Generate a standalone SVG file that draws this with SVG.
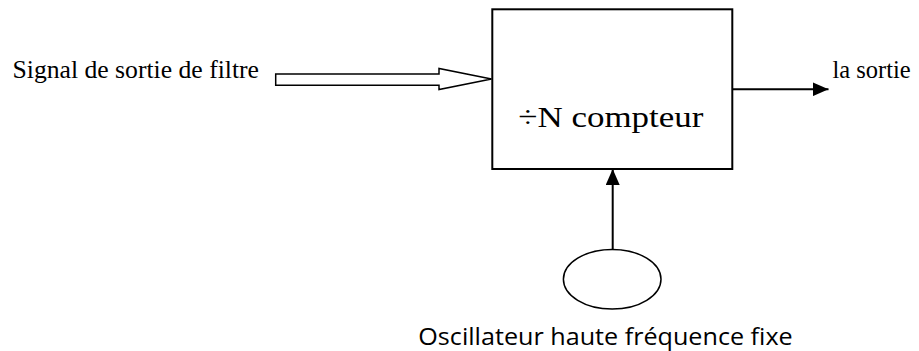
<svg xmlns="http://www.w3.org/2000/svg" width="919" height="351" viewBox="0 0 919 351">
  <style>
    .serif { font-family: "Liberation Serif", "Times New Roman", serif; fill: #000; }
    .sans { font-family: "Open Sans", "Liberation Sans", sans-serif; fill: #000; }
    .outline { fill: #fff; stroke: #000; }
    .wire { fill: none; stroke: #000; stroke-width: 2; }
  </style>
  <defs>
    <marker id="head" viewBox="0 0 16 14" refX="16" refY="7" markerWidth="16" markerHeight="14" markerUnits="userSpaceOnUse" orient="auto">
      <path d="M0,0 L16,7 L0,14 Z" fill="#000"/>
    </marker>
  </defs>

  <rect width="919" height="351" fill="#fff"/>

  <!-- connectors -->
  <g id="connectors">
    <polygon class="outline" stroke-width="1.5" points="275.7,74 439,74 439,68.5 491.5,79 439,89.5 439,85.3 275.7,85.3"/>
    <line class="wire" x1="733" y1="89.3" x2="828.5" y2="89.3" marker-end="url(#head)"/>
    <line class="wire" x1="612.7" y1="249" x2="612.7" y2="169" marker-end="url(#head)"/>
  </g>

  <!-- input label -->
  <g id="input">
    <text class="serif" x="12.5" y="78.3" font-size="25" textLength="246.5" lengthAdjust="spacingAndGlyphs">Signal de sortie de filtre</text>
  </g>

  <!-- counter block -->
  <g id="counter">
    <rect class="outline" x="492.3" y="9.3" width="240" height="159.7" stroke-width="2"/>
    <text class="serif" x="518.3" y="126.7" font-size="30" textLength="185" lengthAdjust="spacingAndGlyphs">÷N compteur</text>
  </g>

  <!-- output label -->
  <g id="output">
    <text class="serif" x="832.5" y="77.7" font-size="24.5">la sortie</text>
  </g>

  <!-- oscillator -->
  <g id="oscillator">
    <ellipse class="outline" cx="612.2" cy="279.2" rx="48.8" ry="29.8" stroke-width="1.5"/>
    <text class="sans" x="418.3" y="345" font-size="24" textLength="374.4" lengthAdjust="spacingAndGlyphs">Oscillateur haute fréquence fixe</text>
  </g>
</svg>
